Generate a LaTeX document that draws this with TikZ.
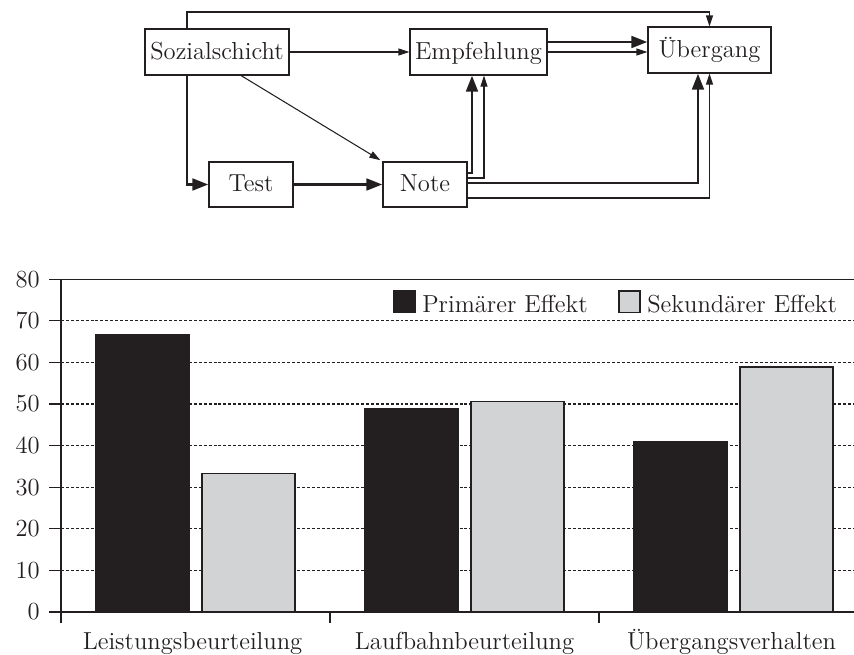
\documentclass[tikz,border=0pt]{standalone}
\usepackage{fontspec}
\usepackage{tikz}
\usetikzlibrary{arrows.meta,calc}
\definecolor{ink}{HTML}{231F20}
\definecolor{lightbar}{HTML}{D1D3D4}

\begin{document}
\begin{tikzpicture}[color=ink,
    box/.style={draw=ink, line width=0.6pt, minimum height=0.92cm, inner sep=0pt,
      text height=9.8pt, text depth=1.8pt, font=\fontsize{14}{16}\selectfont},
    single/.style={line width=0.6pt, -{Triangle[length=2.2mm,width=1.4mm]}},
    heavy/.style={line width=1.7pt, -{Triangle[length=3.2mm,width=2.3mm]}},
    gridline/.style={line width=0.6pt, dash pattern=on 1.7pt off 1.1pt},
    axisline/.style={line width=0.7pt},
    label/.style={font=\fontsize{14}{16}\selectfont, inner sep=0pt}]
        \useasboundingbox (0,0) rectangle (17.08,-13.1);

        \node[box, minimum width=2.88cm] (soz) at (4.34,-1.04) {Sozialschicht};
        \node[box, minimum width=2.74cm] (emp) at (9.57,-1.04) {Empfehlung};
        \node[box, minimum width=2.46cm] (ueb) at (14.19,-1.0) {Übergang};
        \node[box, minimum width=1.68cm, minimum height=0.9cm] (test) at (5.02,-3.69) {Test};
        \node[box, minimum width=1.68cm, minimum height=0.9cm] (note) at (8.5,-3.69) {Note};

        \draw[single] ($(soz.north)+(-0.6,0)$) -- ++(0,0.33) -| (ueb.north);
        \draw[single] (soz) -- (emp);
        \draw[single, shorten >=0.5mm] ($(soz.south)+(0.48,0)$) -- (note.north west);
        \draw[heavy] ($(soz.south)+(-0.6,0)$) |- (test);
        \draw[heavy] (test) -- (note);
        \draw[heavy] ($(note.east)+(0,0.23)$) -| ($(emp.south)+(-0.13,0)$);
        \draw[single] ($(note.east)+(0,0.13)$) -| ($(emp.south)+(0.11,0)$);
        \draw[heavy] ($(note.east)+(0,0.03)$) -| ($(ueb.south)+(-0.23,0)$);
        \draw[single] ($(note.east)+(0,-0.27)$) -| (ueb.south);
        \draw[heavy] ($(emp.east)+(0,0.2)$) coordinate (e1) -- (e1 -| ueb.west);
        \draw[single] (emp.east) -- (emp.east -| ueb.west);

        \begin{scope}[yshift=-12.24cm, y=0.832mm]
        \foreach \v in {10,20,...,70}
            \draw[gridline] (1.22,\v) -- (17.08,\v);
        \foreach \v in {0,10,...,80} {
            \draw[axisline] (0.98,\v) -- (1.22,\v);
            \node[label, anchor=east] (l\v) at (0.8,\v) {\v};
        }
        \foreach \c/\p/\s [count=\i] in {3.91/66.7/33.3, 9.29/48.8/50.6, 14.67/41.1/58.9} {
            \draw[fill=ink, line width=0.6pt] (\c-1.99,0) rectangle (\c-0.13,\p);
            \draw[fill=lightbar, line width=0.6pt] (\c+0.13,0) rectangle (\c+1.99,\s);
        }
        \draw[axisline] (0.98,80) -- (17.08,80);
        \draw[axisline] (0.98,0) -- (17.08,0);
        \draw[axisline] (1.22,80) -- (1.22,-2.64);
        \foreach \x in {6.6,11.98}
            \draw[axisline] (\x,0) -- (\x,-2.64);

        \node[label, anchor=base] (cat1) at (3.85,-8.9) {Leistungsbeurteilung};
        \node[label, anchor=base] (cat2) at (9.29,-8.9) {Laufbahnbeurteilung};
        \node[label, anchor=base] (cat3) at (14.63,-8.9) {Übergangsverhalten};

        \draw[fill=ink, line width=0.6pt] (7.88,72.1) rectangle (8.3,77.16);
        \node[label, anchor=base west] (legp) at (8.44,72.1) {Primärer Effekt};
        \draw[fill=lightbar, line width=0.6pt] (12.38,72.1) rectangle (12.8,77.16);
        \node[label, anchor=base west] (legs) at (12.94,72.1) {Sekundärer Effekt};
        \end{scope}
\end{tikzpicture}
\end{document}
